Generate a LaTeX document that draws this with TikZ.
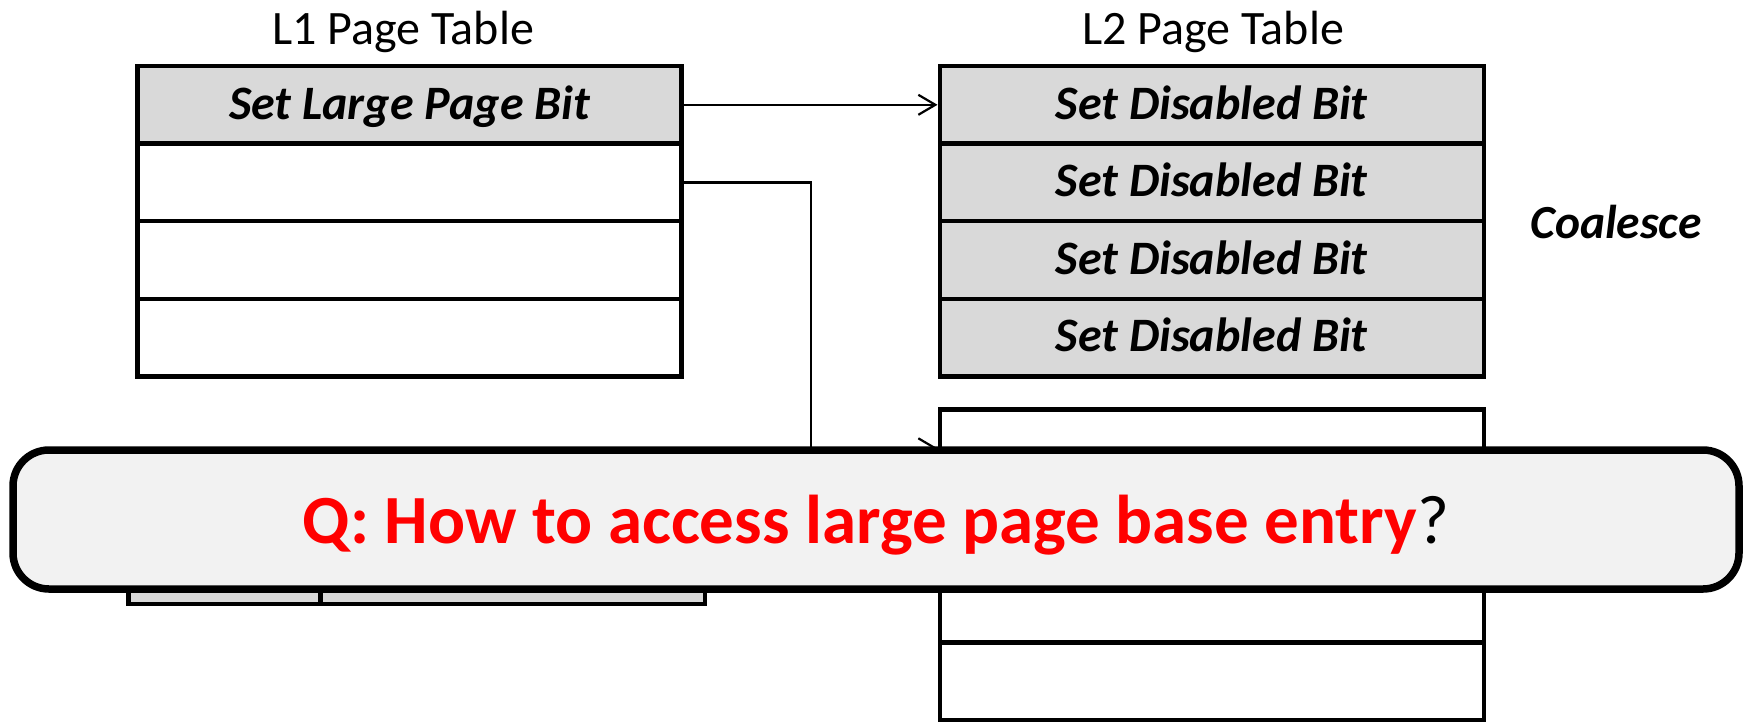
\documentclass[tikz,border=0pt]{standalone}
\usepackage{fontspec}
\setmainfont{Carlito}
\usetikzlibrary{arrows.meta}
\definecolor{cellgray}{HTML}{D9D9D9}
\definecolor{bubblegray}{HTML}{F2F2F2}
\definecolor{qred}{HTML}{FF0000}
\tikzset{
  cell/.style={draw, line width=4.5pt, minimum width=544pt, minimum height=77.6pt,
    inner sep=0pt, text height=30pt, text depth=1.6pt,
    font=\fontsize{48pt}{54pt}\selectfont\bfseries\itshape},
  shaded/.style={cell, fill=cellgray},
  blank/.style={cell, fill=white},
  tabletitle/.style={anchor=base, inner sep=0pt, font=\fontsize{48pt}{54pt}\selectfont},
  conn/.style={line width=2.2pt, -{Straight Barb[length=17pt, width=20pt]}},
  bubble/.style={draw, line width=7.5pt, fill=bubblegray, rounded corners=36pt,
    minimum width=1726pt, minimum height=139pt, inner sep=0pt,
    text height=50pt, text depth=3pt,
    font=\fontsize{69pt}{78pt}\selectfont},
  stripcell/.style={draw, line width=4.5pt, fill=cellgray}
}
\begin{document}
\begin{tikzpicture}[x=1pt, y=-1pt]
\useasboundingbox (0,0) rectangle (1748,721);

% titles
\node[tabletitle] (t1) at (403,44) {L1 Page Table};
\node[tabletitle] (t2) at (1213,44) {L2 Page Table};

% L1 page table
\node[shaded] (l1r1) at (409.5,104.8) {Set Large Page Bit};
\node[blank]  (l1r2) at (409.5,182.4) {};
\node[blank]  (l1r3) at (409.5,260.0) {};
\node[blank]  (l1r4) at (409.5,337.6) {};

% L2 page table, disabled entries
\node[shaded] (l2r1) at (1211.75,104.8) {Set Disabled Bit};
\node[shaded] (l2r2) at (1211.75,182.4) {Set Disabled Bit};
\node[shaded] (l2r3) at (1211.75,260.0) {Set Disabled Bit};
\node[shaded] (l2r4) at (1211.75,337.6) {Set Disabled Bit};

\node[anchor=base, inner sep=0pt, font=\fontsize{47.5pt}{54pt}\selectfont\bfseries\itshape]
  (coal) at (1616,238) {Coalesce};

% second L2 page table
\node[blank] (l2b1) at (1211.75,448.3) {};
\node[blank] (l2b2) at (1211.75,525.9) {};
\node[blank] (l2b3) at (1211.75,603.5) {};
\node[blank] (l2b4) at (1211.75,681.1) {};

% large page entries
\draw[stripcell] (128.5,520) rectangle (320.5,604);
\draw[stripcell] (320.5,520) rectangle (705,604);

% pointers
\coordinate (bendx) at (811,0);
\draw[conn] (l1r1.east) -- (l2r1.west);
\draw[conn] (l1r2.east) -- (l1r2.east -| bendx) -- (bendx |- l2b1.west) -- (l2b1.west);

% question banner
\node[bubble] (q) at (876,519.5)
  {\textcolor{qred}{\bfseries Q: How to access large page base entry}?};
\end{tikzpicture}
\end{document}
